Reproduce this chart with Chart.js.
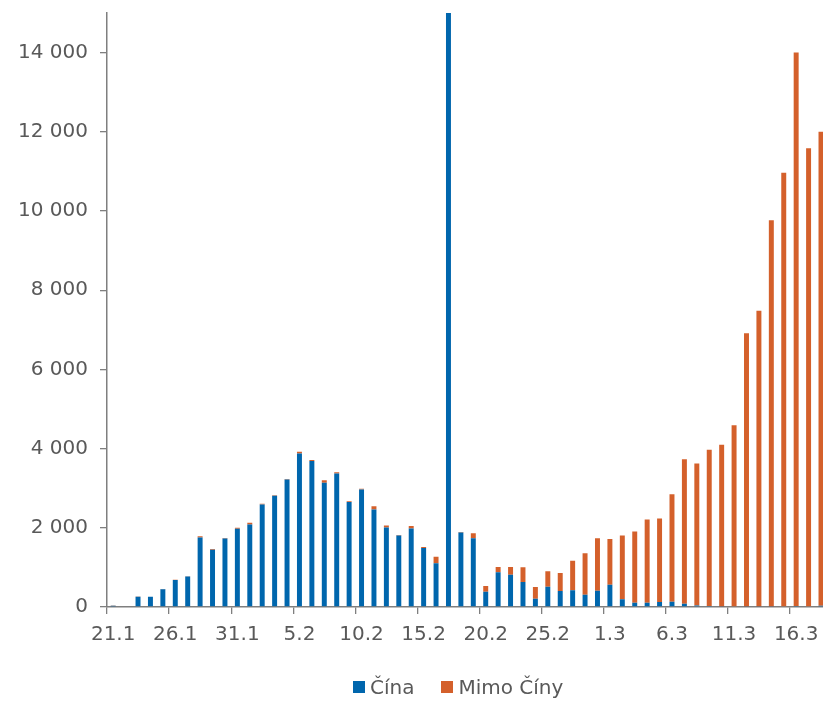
<!DOCTYPE html>
<html lang="cs">
<head>
<meta charset="utf-8">
<title>Nové případy – Čína a mimo Čínu</title>
<script src="https://cdn.jsdelivr.net/npm/chart.js@4.4.1/dist/chart.umd.min.js"></script>
<style>
  html, body { margin: 0; padding: 0; background: #fff; overflow: hidden; }
  #wrap { position: relative; width: 830px; height: 701px; }
  #legend {
    position: absolute; left: 353px; top: 675px;
    display: flex; align-items: center;
    font-family: "DejaVu Sans", sans-serif; font-size: 20px; color: #595959;
  }
  #legend .item { display: flex; align-items: center; margin-right: 27px; }
  #legend .box { width: 12px; height: 12px; margin-right: 5px; }
</style>
</head>
<body>
<div id="wrap">
  <canvas id="chart"></canvas>
  <div id="legend"></div>
</div>
<script>
// daily new cases, 21.1. – 18.3.
const dates = [
  '21.1', '22.1', '23.1', '24.1', '25.1', '26.1', '27.1', '28.1', '29.1', '30.1', '31.1',
  '1.2', '2.2', '3.2', '4.2', '5.2', '6.2', '7.2', '8.2', '9.2', '10.2',
  '11.2', '12.2', '13.2', '14.2', '15.2', '16.2', '17.2', '18.2', '19.2', '20.2',
  '21.2', '22.2', '23.2', '24.2', '25.2', '26.2', '27.2', '28.2', '29.2',
  '1.3', '2.3', '3.3', '4.3', '5.3', '6.3', '7.3', '8.3', '9.3', '10.3',
  '11.3', '12.3', '13.3', '14.3', '15.3', '16.3', '17.3', '18.3'
];
const china = [
  30, 0, 259, 257, 450, 680, 772, 1755, 1445, 1728, 1975,
  2085, 2590, 2808, 3220, 3878, 3690, 3140, 3370, 2650, 2968,
  2460, 2005, 1805, 1980, 1490, 1104, 15141, 1880, 1736, 388,
  876, 817, 632, 210, 513, 404, 421, 311, 413,
  565, 194, 110, 110, 126, 135, 80, 35, 25, 15,
  20, 10, 10, 15, 20, 25, 20, 30
];
const outside = [
  5, 0, 5, 4, 5, 5, 5, 30, 20, 15, 25,
  40, 15, 15, 15, 40, 25, 60, 30, 20, 15,
  85, 50, 15, 67, 25, 168, 0, 16, 126, 143,
  135, 194, 371, 295, 388, 455, 750, 1045, 1323,
  1154, 1609, 1794, 2097, 2106, 2713, 3650, 3591, 3946, 4084,
  4571, 6906, 7468, 9749, 10946, 13975, 11566, 11970
];
const yTicks = [0, 2000, 4000, 6000, 8000, 10000, 12000, 14000];
const yMax = 15000;
const seriesNames = ['Čína', 'Mimo Číny'];
const labelEvery = 5;

const BLUE = '#0066AD';
const ORANGE = '#D4602B';
const AXIS = '#7f7f7f';
const TEXT = '#595959';
const FONT = { family: 'DejaVu Sans', size: 20 };

function fmtThousands(v) {
  return String(v).replace(/\B(?=(\d{3})+(?!\d))/g, ' ');
}

const ChartPage = (() => {
  let chart = null;
  function init() {
    const ctx = document.getElementById('chart').getContext('2d');
    const ds = (label, data, color) => ({
      label, data,
      backgroundColor: color,
      borderWidth: 0,
      barPercentage: 0.4,
      categoryPercentage: 1,
      clip: 0
    });
    chart = new Chart(ctx, {
      type: 'bar',
      data: {
        labels: dates,
        datasets: [ds(seriesNames[0], china, BLUE), ds(seriesNames[1], outside, ORANGE)]
      },
      options: {
        responsive: true,
        maintainAspectRatio: false,
        animation: false,
        layout: { padding: { left: 6, top: 12, right: 0, bottom: 45 } },
        plugins: { legend: { display: false }, tooltip: { enabled: false } },
        scales: {
          x: {
            stacked: true,
            offset: true,
            grid: {
              offset: true,
              drawOnChartArea: false,
              tickLength: 7,
              lineWidth: 1.3,
              color: (c) => (c.index % labelEvery === 0 ? AXIS : 'transparent')
            },
            border: { color: AXIS, width: 1.5 },
            ticks: {
              autoSkip: false, maxRotation: 0, minRotation: 0,
              padding: 9, color: TEXT, font: FONT,
              callback: (v, i) => (i % labelEvery === 0 ? dates[i] : '')
            }
          },
          y: {
            stacked: true,
            min: 0, max: yMax,
            afterBuildTicks: (scale) => { scale.ticks = yTicks.map((v) => ({ value: v })); },
            grid: { drawOnChartArea: false, tickLength: 7, lineWidth: 1.3, color: AXIS },
            border: { color: AXIS, width: 1.5 },
            ticks: {
              padding: 12, color: TEXT,
              font: { family: FONT.family, size: FONT.size, lineHeight: 0.1 },
              callback: (v) => fmtThousands(v)
            }
          }
        }
      }
    });
    renderLegend();
  }
  function renderLegend() {
    const el = document.getElementById('legend');
    el.innerHTML = chart.data.datasets.map((d) =>
      `<span class="item"><span class="box" style="background:${d.backgroundColor}"></span>${d.label}</span>`
    ).join('');
  }
  return { init };
})();
document.addEventListener('DOMContentLoaded', () => ChartPage.init());
</script>
</body>
</html>
